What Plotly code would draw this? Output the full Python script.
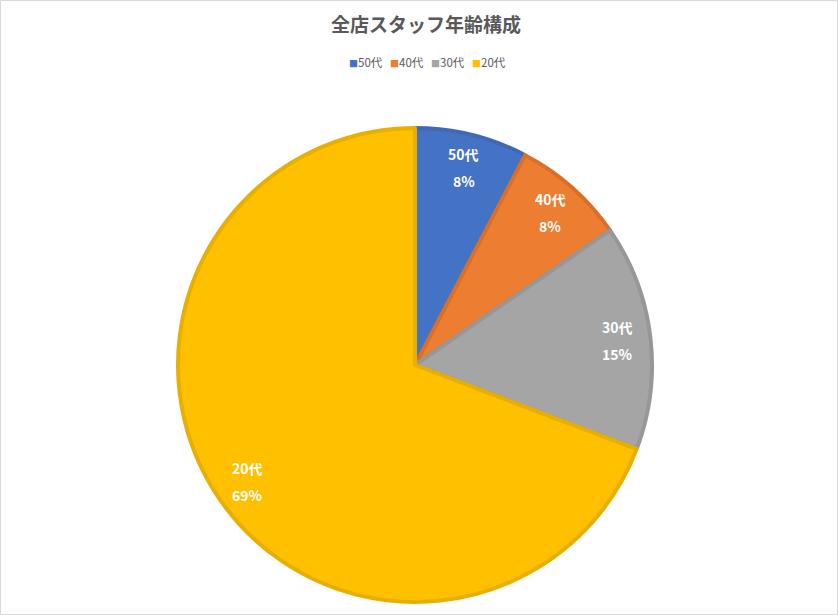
import math
import plotly.graph_objects as go

# 全店スタッフの年齢層別人数
age_groups = ["50代", "40代", "30代", "20代"]
staff_counts = [1, 1, 2, 9]

fill_colors = ["#4472C4", "#ED7D31", "#A5A5A5", "#FFC000"]
edge_colors = ["#3F69B5", "#D97029", "#979797", "#E8AF00"]

W, H = 838, 615
CX, CY, R = 415, 365, 237  # pie centre / radius in px

fig = go.Figure(go.Pie(
    labels=age_groups,
    values=staff_counts,
    sort=False,
    direction="clockwise",
    rotation=0,
    marker=dict(colors=fill_colors, line=dict(color=edge_colors, width=4)),
    textinfo="none",
    hoverinfo="label+value+percent",
    showlegend=False,
    domain=dict(x=[(CX - R) / W, (CX + R) / W], y=[(H - CY - R) / H, (H - CY + R) / H]),
))

# data labels, Excel "best fit" style: on the mid-angle of each slice near the rim
total = sum(staff_counts)
start = 0.0
for name, v in zip(age_groups, staff_counts):
    mid = math.radians(start + 180 * v / total)
    start += 360 * v / total
    px = (CX + 0.86 * R * math.sin(mid)) / W
    py = (H - CY + 0.86 * R * math.cos(mid)) / H
    for txt, shift in ((name, 13), (f"{round(100 * v / total)}%", -14)):
        fig.add_annotation(x=px, y=py, xref="paper", yref="paper", text=f"<b>{txt}</b>",
                           xanchor="center", yanchor="middle",
                           showarrow=False, yshift=shift,
                           font=dict(color="white", size=14, family="Noto Sans CJK JP"))

# legend in the Excel look (small squares close to the text)
legend_text = "   ".join(
    f"<span style='color:{c};font-size:9px'>■</span>{n}" for n, c in zip(age_groups, fill_colors))
fig.add_annotation(x=428 / W, y=1 - 62 / H, xref="paper", yref="paper", text=legend_text,
                   xanchor="center", yanchor="middle",
                   showarrow=False, font=dict(size=11.5, color="#595959"))

fig.update_layout(
    width=W, height=H,
    margin=dict(l=0, r=0, t=0, b=0),
    paper_bgcolor="white",
    font=dict(family="Noto Sans CJK JP", color="#595959"),
    title=dict(text="<b>全店スタッフ年齢構成</b>", x=426 / W, xanchor="center",
               y=1 - 25 / H, yanchor="middle",
               font=dict(size=19, color="#595959")),
    shapes=[dict(type="rect", xref="paper", yref="paper",
                 x0=0.5 / W, x1=1 - 0.5 / W, y0=0.5 / H, y1=1 - 0.5 / H,
                 line=dict(color="#D9D9D9", width=1))],
)

fig.write_html("out.html", config={"displayModeBar": False},
               post_script="document.body.style.margin='0';")
